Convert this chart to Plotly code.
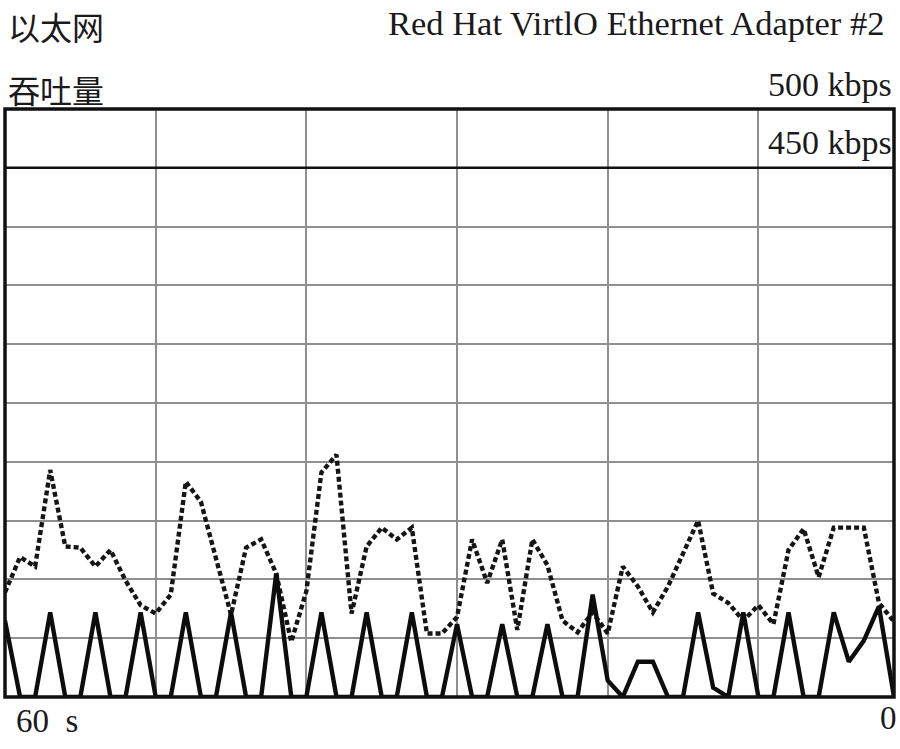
import plotly.graph_objects as go

# 60 one-second samples, oldest (60 s ago) on the left, newest (0) on the right
seconds = list(range(60))

# solid line (kbps)
send_kbps = [65, 0, 0, 72, 0, 0, 72, 0, 0, 72,
             0, 0, 72, 0, 0, 72, 0, 0, 105, 0,
             0, 72, 0, 0, 72, 0, 0, 72, 0, 0,
             62, 0, 0, 62, 0, 0, 62, 0, 0, 87,
             14, 0, 30, 30, 0, 0, 72, 8, 0, 72,
             0, 0, 72, 0, 0, 72, 30, 48, 77, 0]

# dotted line (kbps)
recv_kbps = [89, 119, 111, 193, 128, 127, 111, 125, 99, 78,
             71, 87, 183, 166, 118, 70, 127, 134, 105, 47,
             90, 191, 206, 71, 128, 144, 134, 144, 54, 54,
             68, 134, 97, 134, 57, 134, 112, 65, 55, 72,
             54, 111, 94, 72, 94, 122, 150, 88, 80, 65,
             78, 62, 125, 143, 102, 144, 144, 144, 80, 64]

y_max = 500
y_step = 50
limit_kbps = 450
x_grid_step = 10

title_left = "以太网"
subtitle_left = "吞吐量"
adapter_name = "Red Hat VirtlO Ethernet Adapter #2"
top_label = "500 kbps"
limit_label = "450 kbps"
left_time_label = "60  s"
right_time_label = "0"

W, H = 900, 749
L, R, T, B = 5, 894, 109, 697


def px(xp):
    return (xp - L) / (R - L)


def py(yp):
    return (B - yp) / (B - T)


fig = go.Figure()

fig.add_trace(go.Scatter(
    x=seconds, y=recv_kbps, mode="lines",
    line=dict(color="#151515", width=4.4, dash="5px,3px"),
    hoverinfo="skip", showlegend=False))

fig.add_trace(go.Scatter(
    x=seconds, y=send_kbps, mode="lines",
    line=dict(color="#0d0d0d", width=4.4),
    hoverinfo="skip", showlegend=False))

grid_col = "#8f8f8f"
fig.update_xaxes(range=[0, len(seconds) - 1], showgrid=True, gridcolor=grid_col,
                 gridwidth=1.5, dtick=x_grid_step, tick0=0, showticklabels=False,
                 zeroline=False, showline=False, ticks="")
fig.update_yaxes(range=[0, y_max], showgrid=True, gridcolor=grid_col,
                 gridwidth=1.5, dtick=y_step, tick0=0, showticklabels=False,
                 zeroline=False, showline=False, ticks="")

# 450 kbps limit line
fig.add_shape(type="line", xref="paper", yref="y", x0=0, x1=1,
              y0=limit_kbps, y1=limit_kbps, line=dict(color="#111111", width=2.5))
# frame
fig.add_shape(type="rect", xref="paper", yref="paper", x0=0, x1=1, y0=0, y1=1,
              line=dict(color="#111111", width=3.5))

serif = "Liberation Serif, Times New Roman, serif"
cjk = "Noto Sans CJK SC, sans-serif"
txt = "#1a1a1a"

ann = [
    dict(text=title_left, x=px(6), y=py(26), xanchor="left", yanchor="middle",
         font=dict(family=cjk, size=32, color=txt)),
    dict(text=subtitle_left, x=px(6), y=py(89), xanchor="left", yanchor="middle",
         font=dict(family=cjk, size=32, color=txt)),
    dict(text=adapter_name, x=px(886), y=py(23), xanchor="right", yanchor="middle",
         font=dict(family=serif, size=34.5, color=txt)),
    dict(text=top_label, x=px(894), y=py(85), xanchor="right", yanchor="middle",
         font=dict(family=serif, size=34, color=txt)),
    dict(text=limit_label, x=px(894), y=py(142), xanchor="right", yanchor="middle",
         font=dict(family=serif, size=34, color=txt)),
    dict(text=left_time_label, x=px(14), y=py(721), xanchor="left", yanchor="middle",
         font=dict(family=serif, size=33, color=txt)),
    dict(text=right_time_label, x=px(899), y=py(718), xanchor="right", yanchor="middle",
         font=dict(family=serif, size=33, color=txt)),
]
for a in ann:
    a.update(xref="paper", yref="paper", showarrow=False)

fig.update_layout(
    width=W, height=H,
    margin=dict(l=L, r=W - R, t=T, b=H - B, pad=0),
    paper_bgcolor="white", plot_bgcolor="white",
    annotations=ann, showlegend=False,
)

fig.write_html("out.html", config={"displayModeBar": False},
               post_script="document.body.style.margin='0px';document.body.style.padding='0px';")
